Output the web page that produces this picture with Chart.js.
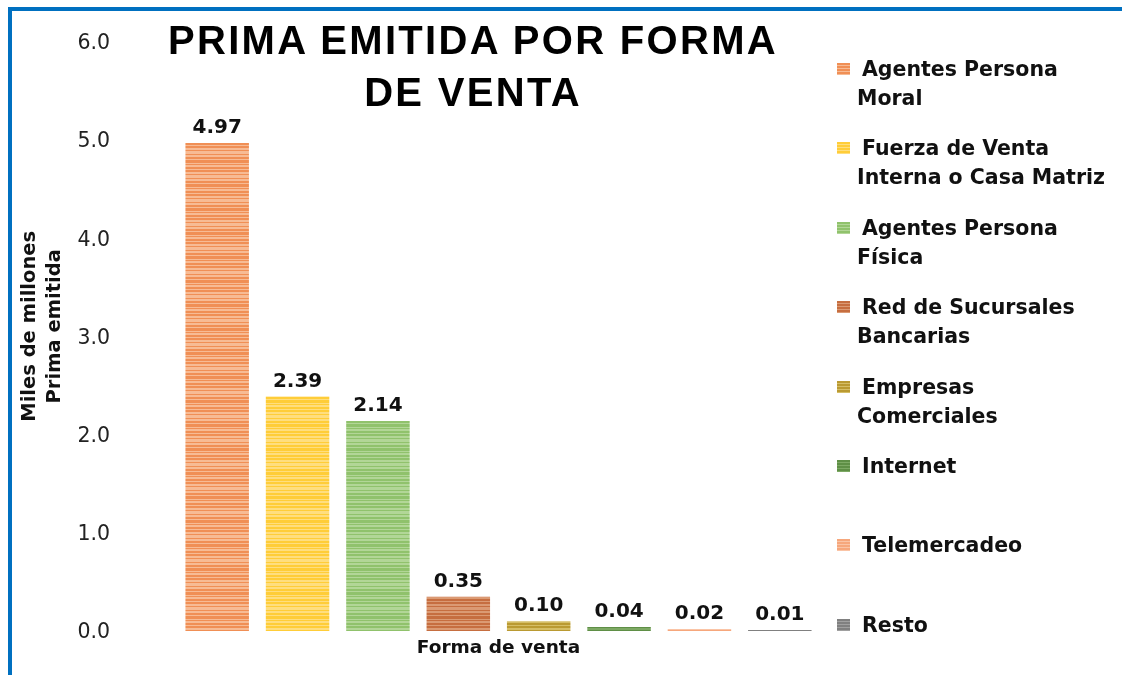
<!DOCTYPE html>
<html>
<head>
<meta charset="utf-8">
<script src="https://cdn.jsdelivr.net/npm/chart.js@4.4.0/dist/chart.umd.min.js"></script>
<style>
  body { margin: 0; background: #fff; }
  #wrap { position: relative; width: 1122px; height: 675px; overflow: hidden; font-family: "DejaVu Sans", sans-serif; }
  #frame { position: absolute; left: 8px; top: 7px; width: 1200px; height: 800px;
           border-left: 4px solid #0070C0; border-top: 4px solid #0070C0; }
  #myChart { position: absolute; left: 0; top: 0; }
  #title { position: absolute; left: 123px; top: 14px; width: 700px; text-align: center;
           font-family: "Liberation Sans", sans-serif; font-weight: bold; font-size: 40px;
           line-height: 52px; letter-spacing: 2.3px; color: #000; }
  #legend { position: absolute; left: 837px; top: 0; }
  .item { position: absolute; left: 0; width: 285px; }
  .mark { position: absolute; left: 0; top: 8px; width: 13px; height: 12px; }
  .txt { position: absolute; left: 20px; font-weight: bold; font-size: 20.5px; line-height: 29px;
         color: #111; text-indent: 5px; white-space: pre; }
</style>
</head>
<body>
<div id="wrap">
  <div id="frame"></div>
  <canvas id="myChart" width="1122" height="675"></canvas>
  <div id="title">PRIMA EMITIDA POR FORMA<br>DE VENTA</div>
  <div id="legend"></div>
</div>
<script>
const categories = [
    'Agentes Persona\nMoral',
    'Fuerza de Venta\nInterna o Casa Matriz',
    'Agentes Persona\nFísica',
    'Red de Sucursales\nBancarias',
    'Empresas\nComerciales',
    'Internet',
    'Telemercadeo',
    'Resto'
];

const primaEmitida = [4.97, 2.39, 2.14, 0.35, 0.10, 0.04, 0.02, 0.01];

const yTicks = [0, 1, 2, 3, 4, 5, 6];

const darkColors = ['#F08F55', '#FFCD38', '#90C26C', '#C66E40', '#BA9A32', '#5F8F46', '#F6A77C', '#808080'];
const lightColors = ['#F7BB94', '#FFDE7E', '#B2D697', '#DB9A73', '#D5BE66', '#7DA964', '#FAC4A6', '#A0A0A0'];

// stripey fill like the original bars
function stripes(dark, light) {
    const c = document.createElement('canvas');
    c.width = 4;
    c.height = 24;
    const g = c.getContext('2d');
    const rows = [0, 1, 0, 0, 1, 1, 0, 1, 1, 1, 0, 1, 1, 0, 0, 1, 0, 0, 0, 1, 0, 1, 1, 0];
    rows.forEach((r, i) => {
        g.fillStyle = r ? light : dark;
        g.fillRect(0, i, 4, 1);
    });
    return g.createPattern(c, 'repeat');
}

const fills = darkColors.map((d, i) => stripes(d, lightColors[i]));

const valueLabels = {
    id: 'valueLabels',
    afterDatasetsDraw(chart) {
        const ctx = chart.ctx;
        const meta = chart.getDatasetMeta(0);
        ctx.save();
        ctx.font = 'bold 20px "DejaVu Sans"';
        ctx.fillStyle = '#111';
        ctx.textAlign = 'center';
        ctx.textBaseline = 'bottom';
        meta.data.forEach((bar, i) => {
            ctx.fillText(primaEmitida[i].toFixed(2), bar.x, bar.y - 5);
        });
        ctx.restore();
    }
};

const data = {
    labels: categories,
    datasets: [{
        label: 'Prima emitida',
        data: primaEmitida,
        backgroundColor: fills,
        borderWidth: 0,
        barPercentage: 0.79,
        categoryPercentage: 1
    }]
};

const config = {
    type: 'bar',
    data: data,
    options: {
        responsive: false,
        animation: false,
        layout: { padding: { left: 10, top: 42, right: 302, bottom: 0 } },
        plugins: {
            legend: { display: false },
            tooltip: { enabled: false }
        },
        scales: {
            x: {
                grid: { display: false, drawTicks: false },
                border: { display: false },
                ticks: { display: false },
                title: {
                    display: true,
                    text: 'Forma de venta',
                    color: '#111',
                    font: { family: 'DejaVu Sans', size: 18.5, weight: 'bold' },
                    padding: { top: 0, bottom: 16 }
                },
                afterFit(scale) { scale.height = 44; }
            },
            y: {
                min: 0,
                max: 6,
                afterBuildTicks(scale) {
                    scale.ticks = yTicks.map(v => ({ value: v }));
                },
                grid: { display: false, drawTicks: true, tickLength: 64 },
                border: { display: false },
                ticks: {
                    padding: 3,
                    labelOffset: 2,
                    color: '#222',
                    font: { family: 'DejaVu Sans', size: 20.5 },
                    callback: v => v.toFixed(1)
                },
                title: {
                    display: true,
                    text: ['   Miles de millones', '   Prima emitida'],
                    color: '#111',
                    font: { family: 'DejaVu Sans', size: 19.5, weight: 'bold', lineHeight: 1.25 },
                    padding: { top: 8, bottom: 0 }
                },
                afterFit(scale) { scale.width = 167; }
            }
        }
    },
    plugins: [valueLabels]
};

const myChart = new Chart(document.getElementById('myChart'), config);

// legend on the right, one entry per category
const legendBox = document.getElementById('legend');
categories.forEach((name, i) => {
    const item = document.createElement('div');
    item.className = 'item';
    item.style.top = (55 + i * 79.4) + 'px';
    const mark = document.createElement('div');
    mark.className = 'mark';
    mark.style.background = 'repeating-linear-gradient(180deg,' + darkColors[i] + ' 0 2px,' + lightColors[i] + ' 2px 3px)';
    const txt = document.createElement('div');
    txt.className = 'txt';
    txt.textContent = name;
    item.appendChild(mark);
    item.appendChild(txt);
    legendBox.appendChild(item);
});
</script>
</body>
</html>
